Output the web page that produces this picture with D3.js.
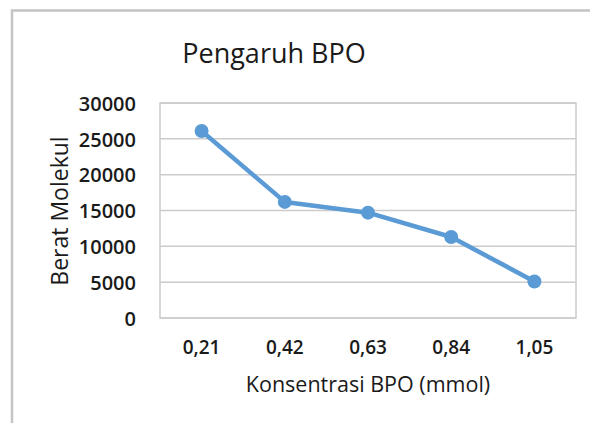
<!DOCTYPE html>
<html>
<head>
<meta charset="utf-8">
<script src="https://cdn.jsdelivr.net/npm/d3@7"></script>
<style>
    body { margin: 0; background: #fff; }
    svg text { font-family: "Open Sans", "Noto Sans", sans-serif; fill: #1a1a1a; }
</style>
</head>
<body>
<div id="chart"></div>
<script>
//Chart data
const categories = ["0,21", "0,42", "0,63", "0,84", "1,05"];
const beratMolekul = [26100, 16200, 14700, 11300, 5100];
const yTicks = [0, 5000, 10000, 15000, 20000, 25000, 30000];

const chartTitle = "Pengaruh BPO";
const xTitle = "Konsentrasi BPO (mmol)";
const yTitle = "Berat Molekul";

let margin = { top: 103, right: 14, bottom: 105, left: 160 },
    width = 590 - margin.left - margin.right,
    height = 423 - margin.top - margin.bottom;

let root = d3.select("#chart")
    .append("svg")
    .attr("width", 590)
    .attr("height", 423);

// outer chart frame (only left and top edges visible)
root.append("path")
    .attr("d", "M12,423V10.5H590")
    .attr("fill", "none")
    .attr("stroke", "#c4c4c4")
    .attr("stroke-width", 2.5);

root.append("text")
    .attr("x", 274)
    .attr("y", 63)
    .attr("text-anchor", "middle")
    .style("font-size", "27px")
    .text(chartTitle);

let svg = root.append("g")
    .attr("transform", "translate(" + margin.left + "," + margin.top + ")");

let x = d3.scaleBand()
    .range([0, width])
    .domain(categories);

let y = d3.scaleLinear()
    .range([height, 0])
    .domain([0, 30000]);

// gridlines
svg.append("g")
    .selectAll("line")
    .data(yTicks)
    .enter()
    .append("line")
    .attr("x1", 0)
    .attr("x2", width)
    .attr("y1", d => y(d))
    .attr("y2", d => y(d))
    .attr("stroke", "#cccccc")
    .attr("stroke-width", 1.5);

// plot area border
svg.append("rect")
    .attr("x", 0)
    .attr("y", 0)
    .attr("width", width)
    .attr("height", height)
    .attr("fill", "none")
    .attr("stroke", "#cccccc")
    .attr("stroke-width", 1.5);

// y axis labels
let yAxis = svg.append("g")
    .attr("transform", "translate(-21,0)")
    .call(d3.axisLeft(y).tickValues(yTicks).tickSize(0).tickFormat(d3.format("d")));
yAxis.select(".domain").remove();
yAxis.selectAll("text")
    .attr("dy", "0.36em")
    .style("font-size", "20px")
    .style("font-weight", "600")
    .style("fill", "#1a1a1a");

// x axis labels
let xAxis = svg.append("g")
    .attr("transform", "translate(0," + height + ")")
    .call(d3.axisBottom(x).tickSize(0));
xAxis.select(".domain").remove();
xAxis.selectAll("text")
    .attr("y", 36)
    .attr("dy", 0)
    .style("font-size", "19px")
    .style("font-weight", "600")
    .style("fill", "#1a1a1a");

root.append("text")
    .attr("x", 368)
    .attr("y", 392)
    .attr("text-anchor", "middle")
    .style("font-size", "21.5px")
    .text(xTitle);

root.append("text")
    .attr("transform", "translate(68,211)rotate(-90)")
    .attr("text-anchor", "middle")
    .style("font-size", "23px")
    .text(yTitle);

// series line + markers
let line = d3.line()
    .x((d, i) => x(categories[i]) + x.bandwidth() / 2)
    .y(d => y(d));

svg.append("path")
    .datum(beratMolekul)
    .attr("d", line)
    .attr("fill", "none")
    .attr("stroke", "#5b9bd5")
    .attr("stroke-width", 4.5)
    .attr("stroke-linejoin", "round");

svg.selectAll("circle")
    .data(beratMolekul)
    .enter()
    .append("circle")
    .attr("cx", (d, i) => x(categories[i]) + x.bandwidth() / 2)
    .attr("cy", d => y(d))
    .attr("r", 7)
    .attr("fill", "#5b9bd5");
</script>
</body>
</html>
